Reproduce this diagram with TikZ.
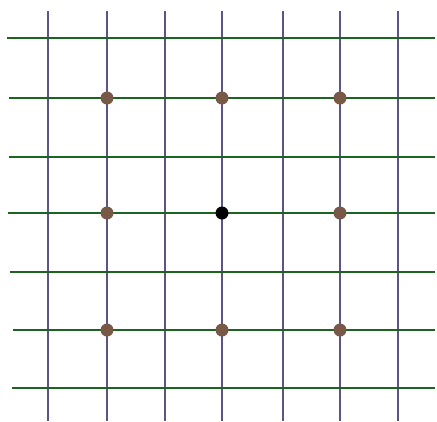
\documentclass[tikz,border=0pt]{standalone}
\definecolor{vline}{RGB}{92,84,132}
\definecolor{hline}{RGB}{28,100,32}
\definecolor{dotc}{RGB}{120,88,70}
\tikzset{
  vl/.style={draw=vline,line width=2.2pt},
  hl/.style={draw=hline,line width=2.2pt},
  gdot/.style={circle,fill=dotc,inner sep=0pt,minimum size=13pt},
  cdot/.style={circle,fill=black,inner sep=0pt,minimum size=13pt}
}
\begin{document}
\begin{tikzpicture}[x=1pt,y=-1pt]
\useasboundingbox (0,0) rectangle (437,421);
\foreach \x in {48,107,165,222,283,340,398}
  \draw[vl] (\x,11) -- (\x,421);
\foreach \y/\s in {38/7,98/9,157/9,213/8,272/10,330/13,388/12}
  \draw[hl] (\s,\y) -- (435,\y);
\node[gdot] (d1) at (107,98) {};
\node[gdot] (d2) at (222,98) {};
\node[gdot] (d3) at (340,98) {};
\node[gdot] (d4) at (107,213) {};
\node[cdot] (c) at (222,213) {};
\node[gdot] (d6) at (340,213) {};
\node[gdot] (d7) at (107,330) {};
\node[gdot] (d8) at (222,330) {};
\node[gdot] (d9) at (340,330) {};
\end{tikzpicture}
\end{document}
